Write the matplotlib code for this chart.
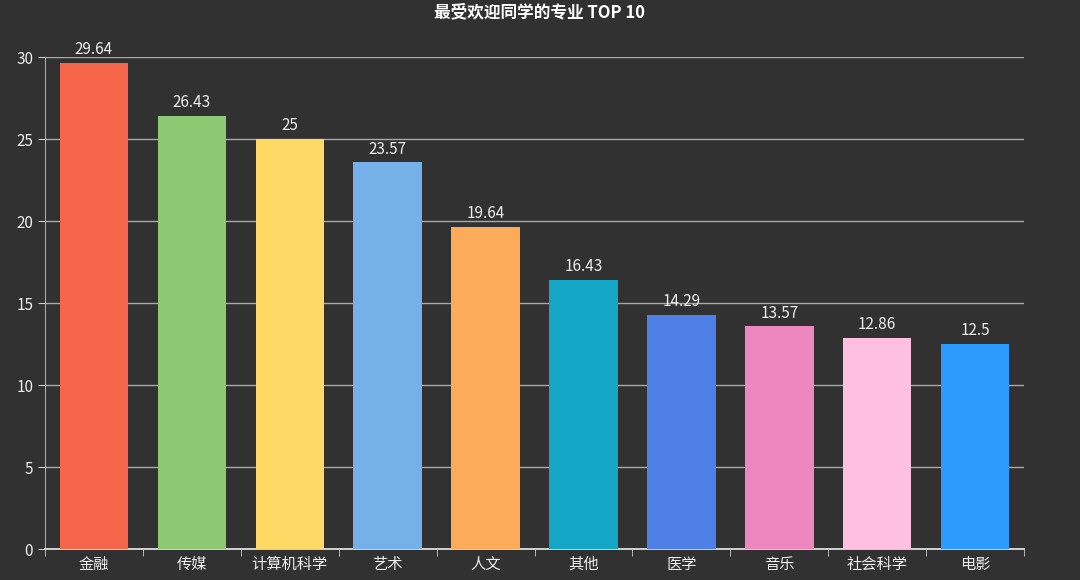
import matplotlib
matplotlib.use("Agg")
import matplotlib.pyplot as plt
import numpy as np

plt.rcParams['font.family'] = ['Noto Sans CJK SC', 'DejaVu Sans']

# 数据
majors = ['金融', '传媒', '计算机科学', '艺术', '人文', '其他', '医学', '音乐', '社会科学', '电影']
percent = [29.64, 26.43, 25, 23.57, 19.64, 16.43, 14.29, 13.57, 12.86, 12.5]
bar_colors = ['#f5654a', '#8dc873', '#ffd966', '#76b0e8', '#fbab5a',
              '#13a6c6', '#4e80e8', '#ee87bf', '#ffbfe0', '#2b9bff']
y_ticks = [0, 5, 10, 15, 20, 25, 30]

bg = '#323132'
fig = plt.figure(figsize=(10.8, 5.8), dpi=100, facecolor=bg)
ax = fig.add_axes([0.0417, 0.0534, 0.9065, 0.8483])
ax.set_facecolor(bg)

x = np.arange(len(majors))
ax.bar(x, percent, width=0.7, color=bar_colors, zorder=3)

# 数值标签
for xi, v in zip(x, percent):
    ax.text(xi, v + 0.3, f'{v:g}', ha='center', va='bottom',
            fontsize=11, color='#eeeeee', zorder=4)

ax.set_xlim(-0.5, len(majors) - 0.5)
ax.set_ylim(0, 30)
ax.set_yticks(y_ticks)
ax.set_yticklabels([str(t) for t in y_ticks])
ax.grid(axis='y', color='#a8a8a8', lw=1, zorder=1)

ax.set_xticks(x)
ax.set_xticklabels(majors)
ax.tick_params(axis='x', which='major', length=0, colors='#eeeeee', labelsize=11, pad=5)
ax.set_xticks(np.arange(len(majors) + 1) - 0.5, minor=True)
ax.tick_params(axis='x', which='minor', length=5, color='#cccccc')
ax.tick_params(axis='y', length=5, color='#cccccc', colors='#eeeeee', labelsize=11)

for s in ['top', 'right']:
    ax.spines[s].set_visible(False)
ax.spines['left'].set_color('#a8a8a8')
ax.spines['bottom'].set_color('#dddddd')
ax.spines['bottom'].set_linewidth(1.3)

fig.text(0.5, 0.978, '最受欢迎同学的专业 TOP 10', ha='center', va='center',
         fontsize=12, fontweight='bold', color='white')

fig.savefig('out.png', dpi=100, facecolor=bg)
